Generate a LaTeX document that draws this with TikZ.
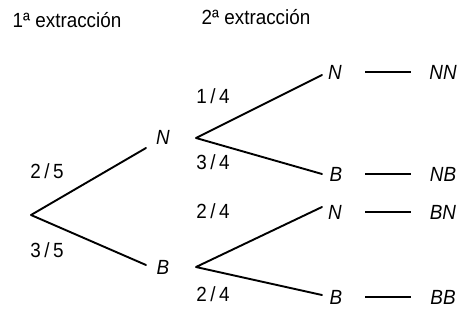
\documentclass[tikz,border=0pt]{standalone}
\usepackage{fontspec}
\setmainfont{Liberation Sans}[FakeStretch=0.92]
\begin{document}
\begin{tikzpicture}[x=1pt,y=-1pt,
  lbl/.style={inner sep=0pt,font=\fontsize{20.5}{24}\selectfont},
  lt/.style={lbl,font=\fontsize{20.5}{24}\selectfont\itshape},
  br/.style={line width=1.9pt,line cap=round,line join=round},
  dsh/.style={line width=1.7pt}]
\useasboundingbox (0,0) rectangle (465,323);
% headers
\node[lbl] (h1) at (67,20) {1ª extracción};
\node[lbl] (h2) at (256,17) {2ª extracción};
% vertices
\coordinate (r) at (31,215);
\node[lt] (N1) at (163,137) {N};
\node[lt] (B1) at (163,267) {B};
\coordinate (vN) at (196,138);
\coordinate (vB) at (196,267);
\coordinate (eN) at (146,148);
\coordinate (eB) at (146,265);
\draw[br] (eN) -- (r) -- (eB);
% second level
\node[lt] (NN2) at (335,72) {N};
\node[lt] (NB2) at (336,174) {B};
\node[lt] (BN2) at (335,212) {N};
\node[lt] (BB2) at (336,297) {B};
\coordinate (eNN) at (322,75);
\coordinate (eNB) at (322,174);
\coordinate (eBN) at (322,207);
\coordinate (eBB) at (322,295);
\draw[br] (eNN) -- (vN) -- (eNB);
\draw[br] (eBN) -- (vB) -- (eBB);
% probabilities
\node[lbl] (p1) at (47,171) {2\,/\,5};
\node[lbl] (p2) at (47,250) {3\,/\,5};
\node[lbl] (p3) at (213,96) {1\,/\,4};
\node[lbl] (p4) at (213,162) {3\,/\,4};
\node[lbl] (p5) at (213,211) {2\,/\,4};
\node[lbl] (p6) at (213,294) {2\,/\,4};
% results
\node[lt] (rNN) at (443,72) {NN};
\node[lt] (rNB) at (443,174) {NB};
\node[lt] (rBN) at (443,212) {BN};
\node[lt] (rBB) at (443,297) {BB};
\foreach \a/\b in {NN2/rNN,NB2/rNB,BN2/rBN,BB2/rBB}{
  \draw[dsh] (365,0 |- \a.center) -- (411,0 |- \b.center);
}
\end{tikzpicture}
\end{document}
